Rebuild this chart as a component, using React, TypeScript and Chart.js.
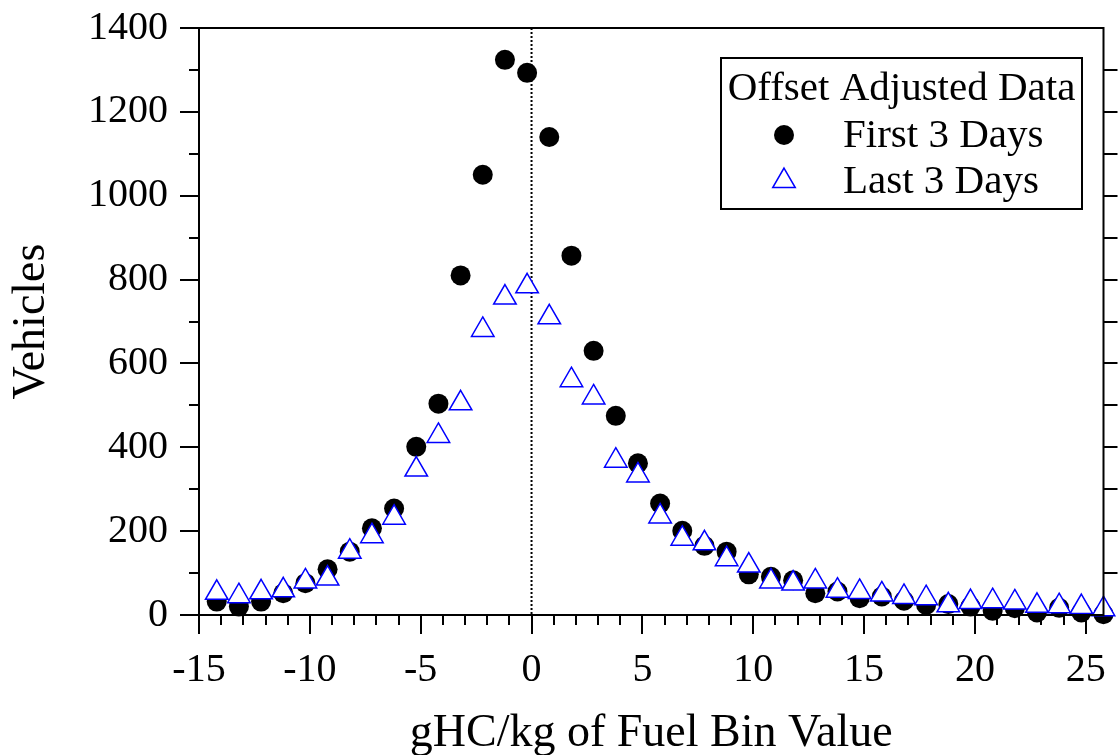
import React, { useEffect, useRef } from 'react';
import { Chart, registerables } from 'chart.js';

Chart.register(...registerables);

// Bin centres (gHC/kg of fuel)
const binValues = [
  -14.2, -13.2, -12.2, -11.2, -10.2, -9.2, -8.2, -7.2, -6.2, -5.2, -4.2, -3.2, -2.2, -1.2, -0.2,
  0.8, 1.8, 2.8, 3.8, 4.8, 5.8, 6.8, 7.8, 8.8, 9.8, 10.8, 11.8, 12.8, 13.8, 14.8, 15.8, 16.8,
  17.8, 18.8, 19.8, 20.8, 21.8, 22.8, 23.8, 24.8, 25.8,
];

const firstThreeDays = [
  32, 20, 32, 52, 76, 109, 151, 207, 254, 401, 504, 810, 1050, 1324, 1293,
  1140, 857, 630, 475, 362, 266, 201, 165, 151, 97, 91, 83, 52, 56, 40, 44, 34,
  24, 26, 20, 10, 16, 6, 17, 6, 2,
];

const lastThreeDays = [
  53, 45, 54, 59, 80, 87, 151, 188, 232, 347, 427, 505, 680, 757, 784,
  710, 560, 519, 368, 333, 235, 182, 171, 133, 118, 80, 75, 80, 58, 55, 49, 43,
  40, 23, 31, 33, 30, 22, 21, 19, 14,
];

const xTickLabels = [-15, -10, -5, 0, 5, 10, 15, 20, 25];
const yTickLabels = [0, 200, 400, 600, 800, 1000, 1200, 1400];

const legendTitle = 'Offset Adjusted Data';
const seriesNames = ['First 3 Days', 'Last 3 Days'];
const xTitle = 'gHC/kg of Fuel Bin Value';
const yTitle = 'Vehicles';

const FONT = '"Liberation Serif", "Times New Roman", serif';
const BLUE = '#0000ff';

const zeroPadding = (s: any) => {
  s.paddingTop = 0;
  s.paddingBottom = 0;
  s.paddingLeft = 0;
  s.paddingRight = 0;
};

const framePlugin = {
  id: 'frame',
  beforeDatasetsDraw(chart: any) {
    const { ctx, chartArea: a, scales } = chart;
    const x0 = scales.x.getPixelForValue(0);
    ctx.save();
    ctx.strokeStyle = '#000';
    ctx.lineWidth = 2;
    ctx.setLineDash([2, 2]);
    ctx.beginPath();
    ctx.moveTo(x0, a.top);
    ctx.lineTo(x0, a.bottom);
    ctx.stroke();
    ctx.restore();
  },
  afterDraw(chart: any) {
    const { ctx, chartArea: a, scales } = chart;
    const xs = scales.x;
    const ys = scales.y;
    ctx.save();
    ctx.strokeStyle = '#000';
    ctx.lineWidth = 2;
    ctx.lineCap = 'butt';
    // frame
    ctx.beginPath();
    ctx.rect(a.left, a.top, a.right - a.left, a.bottom - a.top);
    ctx.stroke();
    // x ticks
    ctx.beginPath();
    for (let v = Math.ceil(xs.min); v <= xs.max; v++) {
      const px = Math.round(xs.getPixelForValue(v));
      const len = v % 5 === 0 ? 19 : 10;
      ctx.moveTo(px, a.bottom);
      ctx.lineTo(px, a.bottom + len);
    }
    // y ticks (left outward, right outward)
    for (let v = ys.min; v <= ys.max; v += 100) {
      const py = Math.round(ys.getPixelForValue(v));
      const len = v % 200 === 0 ? 19 : 10;
      ctx.moveTo(a.left - len, py);
      ctx.lineTo(a.left, py);
      if (v > ys.min && v < ys.max) {
        ctx.moveTo(a.right, py);
        ctx.lineTo(a.right + 14, py);
      }
    }
    ctx.stroke();

    // legend
    const bx = 721, by = 58, bw = 361, bh = 151;
    ctx.fillStyle = '#fff';
    ctx.fillRect(bx, by, bw, bh);
    ctx.lineWidth = 2;
    ctx.strokeRect(bx, by, bw, bh);
    ctx.fillStyle = '#000';
    ctx.font = `41px ${FONT}`;
    ctx.textBaseline = 'alphabetic';
    ctx.textAlign = 'center';
    ctx.fillText(legendTitle, bx + bw / 2, 100);
    ctx.textAlign = 'left';
    ctx.fillText(seriesNames[0], 843, 147);
    ctx.fillText(seriesNames[1], 843, 193);
    // circle marker
    ctx.beginPath();
    ctx.arc(784, 135, 10, 0, Math.PI * 2);
    ctx.fill();
    // triangle marker
    const r = 13, cx = 784, cy = 181;
    ctx.beginPath();
    for (let i = 0; i < 3; i++) {
      const ang = (i * 2 * Math.PI) / 3;
      const px = cx + Math.sin(ang) * r;
      const py = cy - Math.cos(ang) * r;
      if (i === 0) ctx.moveTo(px, py); else ctx.lineTo(px, py);
    }
    ctx.closePath();
    ctx.fillStyle = '#fff';
    ctx.fill();
    ctx.strokeStyle = BLUE;
    ctx.lineWidth = 1.5;
    ctx.stroke();
    ctx.restore();
  },
};

export default function App() {
  const canvasRef = useRef<HTMLCanvasElement | null>(null);

  useEffect(() => {
    const canvas = canvasRef.current;
    if (!canvas) return;
    Chart.defaults.font.family = FONT;
    Chart.defaults.color = '#000';

    const chart = new Chart(canvas, {
      type: 'scatter',
      data: {
        datasets: [
          {
            label: seriesNames[0],
            data: binValues.map((x, i) => ({ x, y: firstThreeDays[i] })),
            pointStyle: 'circle',
            pointRadius: 10,
            pointBackgroundColor: '#000',
            pointBorderColor: '#000',
            pointBorderWidth: 0,
            order: 1,
            clip: false,
          } as any,
          {
            label: seriesNames[1],
            data: binValues.map((x, i) => ({ x, y: lastThreeDays[i] })),
            pointStyle: 'triangle',
            pointRadius: 13,
            pointBackgroundColor: '#fff',
            pointBorderColor: BLUE,
            pointBorderWidth: 1.5,
            order: 0,
            clip: false,
          } as any,
        ],
      },
      options: {
        animation: false,
        responsive: false,
        maintainAspectRatio: false,
        layout: { padding: { top: 28, right: 10, left: 0, bottom: 0 } },
        plugins: {
          legend: { display: false },
          tooltip: { enabled: false },
        },
        scales: {
          x: {
            type: 'linear',
            min: -15,
            max: 25.8,
            grid: { display: false, drawTicks: false },
            border: { display: false },
            afterBuildTicks: (s: any) => {
              s.ticks = xTickLabels.map((v) => ({ value: v }));
            },
            afterFit: (s: any) => {
              s.height = 140;
              zeroPadding(s);
            },
            ticks: {
              font: { size: 40, family: FONT },
              color: '#000',
              padding: 31,
              maxRotation: 0,
              autoSkip: false,
              callback: (v: any) => String(v),
            },
            title: {
              display: true,
              text: xTitle,
              font: { size: 46, family: FONT, lineHeight: 0.9 },
              color: '#000',
              padding: { top: 0, bottom: 0 },
            },
          },
          y: {
            type: 'linear',
            min: 0,
            max: 1400,
            grid: { display: false, drawTicks: false },
            border: { display: false },
            afterBuildTicks: (s: any) => {
              s.ticks = yTickLabels.map((v) => ({ value: v }));
            },
            afterFit: (s: any) => {
              s.width = 199;
              zeroPadding(s);
            },
            ticks: {
              font: { size: 40, family: FONT },
              color: '#000',
              padding: 31,
              autoSkip: false,
              callback: (v: any) => String(v),
            },
            title: {
              display: true,
              text: yTitle,
              font: { size: 46, family: FONT, lineHeight: 1 },
              color: '#000',
              padding: { top: 9, bottom: 0 },
            },
          },
        },
      },
      plugins: [framePlugin as any],
    });
    return () => chart.destroy();
  }, []);

  return (
    <div style={{ position: 'fixed', left: 0, top: 0, width: 1118, height: 755, background: '#fff' }}>
      <canvas ref={canvasRef} width={1118} height={755} style={{ display: 'block', width: 1118, height: 755 }} />
    </div>
  );
}
